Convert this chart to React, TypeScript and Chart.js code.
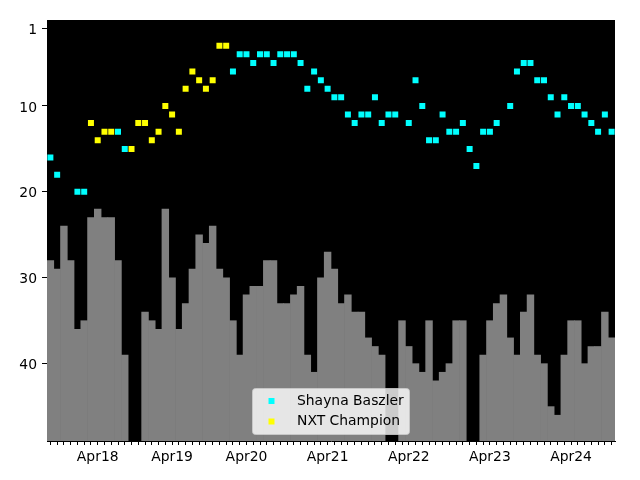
import React, { useEffect, useRef } from 'react';
import { Chart, registerables } from 'chart.js';

Chart.register(...registerables);

// Grey bars (value per period; null = no bar)
const barValues: (number | null)[] = [
  28, 29, 24, 28, 36, 35, 23, 22, 23, 23, 28, 39, null, null, 34, 35, 36, 22, 30, 36,
  33, 29, 25, 26, 24, 29, 30, 35, 39, 32, 31, 31, 28, 28, 33, 33, 32, 31, 39, 41,
  30, 27, 29, 33, 32, 34, 34, 37, 38, 39, null, null, 35, 38, 40, 41, 35, 42, 41, 40,
  35, 35, null, null, 39, 35, 33, 32, 37, 39, 34, 32, 39, 40, 45, 46, 39, 35, 35, 40,
  38, 38, 34, 37,
];

// Cyan points: Shayna Baszler rank
const shaynaRank: (number | null)[] = [
  16, 18, null, null, 20, 20, null, null, null, null, 13, 15, null, null, null, null, null, null, null, null,
  null, null, null, null, null, null, null, 6, 4, 4, 5, 4, 4, 5, 4, 4, 4, 5, 8, 6,
  7, 8, 9, 9, 11, 12, 11, 11, 9, 12, 11, 11, null, 12, 7, 10, 14, 14, 11, 13,
  13, 12, 15, 17, 13, 13, 12, null, 10, 6, 5, 5, 7, 7, 9, 11, 9, 10, 10, 11,
  12, 13, 11, 13,
];

// Yellow points: rank while NXT Champion
const championRank: (number | null)[] = [
  null, null, null, null, null, null, 12, 14, 13, 13, null, null, 15, 12, 12, 14, 13, 10, 11, 13,
  8, 6, 7, 8, 7, 3, 3, null, null, null, null, null, null, null, null, null, null, null, null, null,
  null, null, null, null, null, null, null, null, null, null, null, null, null, null, null, null, null, null, null, null,
  null, null, null, null, null, null, null, null, null, null, null, null, null, null, null, null, null, null, null, null,
  null, null, null, null,
];

const tickPositions = [7, 18, 29, 41, 53, 65, 77];
const tickLabels = ['Apr18', 'Apr19', 'Apr20', 'Apr21', 'Apr22', 'Apr23', 'Apr24'];
const yTicks = [1, 10, 20, 30, 40];
const yMin = 0;
const yMax = 49;

const seriesNames = ['Shayna Baszler', 'NXT Champion'];
const seriesColors = ['#00ffff', '#ffff00'];

const FONT = 'DejaVu Sans';

export default function App() {
  const ref = useRef<HTMLCanvasElement | null>(null);

  useEffect(() => {
    if (!ref.current) return;
    const categories = barValues.map((_, i) => String(i));

    const bgPlugin = {
      id: 'bgPlugin',
      beforeDraw(chart: any) {
        const { ctx, chartArea } = chart;
        ctx.save();
        ctx.fillStyle = '#000000';
        ctx.fillRect(chartArea.left, chartArea.top, chartArea.right - chartArea.left, chartArea.bottom - chartArea.top);
        ctx.restore();
      },
    };

    const legendPlugin = {
      id: 'boxLegend',
      afterDraw(chart: any) {
        const { ctx } = chart;
        const x = 252.5, y = 388.5, w = 157, h = 46, r = 3;
        ctx.save();
        ctx.beginPath();
        ctx.moveTo(x + r, y);
        ctx.lineTo(x + w - r, y);
        ctx.arcTo(x + w, y, x + w, y + r, r);
        ctx.lineTo(x + w, y + h - r);
        ctx.arcTo(x + w, y + h, x + w - r, y + h, r);
        ctx.lineTo(x + r, y + h);
        ctx.arcTo(x, y + h, x, y + h - r, r);
        ctx.lineTo(x, y + r);
        ctx.arcTo(x, y, x + r, y, r);
        ctx.closePath();
        ctx.fillStyle = 'rgba(255,255,255,0.8)';
        ctx.fill();
        ctx.strokeStyle = 'rgba(204,204,204,0.8)';
        ctx.lineWidth = 1;
        ctx.stroke();
        ctx.font = `13.9px "${FONT}"`;
        ctx.textBaseline = 'middle';
        ctx.textAlign = 'left';
        const rows = [401, 421.5];
        seriesNames.forEach((name, k) => {
          ctx.fillStyle = seriesColors[k];
          ctx.fillRect(268.5, rows[k] - 3, 6, 6);
          ctx.fillStyle = '#000000';
          ctx.fillText(name, 297, rows[k]);
        });
        ctx.restore();
      },
    };

    const chart = new Chart(ref.current, {
      type: 'bar',
      data: {
        labels: categories,
        datasets: [
          {
            type: 'line',
            label: seriesNames[0],
            data: shaynaRank,
            showLine: false,
            pointStyle: 'rect',
            pointRadius: 4.24,
            pointBackgroundColor: seriesColors[0],
            pointBorderColor: seriesColors[0],
            pointBorderWidth: 0,
            order: 1,
          } as any,
          {
            type: 'line',
            label: seriesNames[1],
            data: championRank,
            showLine: false,
            pointStyle: 'rect',
            pointRadius: 4.24,
            pointBackgroundColor: seriesColors[1],
            pointBorderColor: seriesColors[1],
            pointBorderWidth: 0,
            order: 1,
          } as any,
          {
            type: 'bar',
            label: 'bars',
            data: barValues.map((v) => (v === null ? null : [yMax, v])) as any,
            backgroundColor: '#808080',
            borderWidth: 0,
            barPercentage: 1,
            categoryPercentage: 1,
            order: 2,
          } as any,
        ],
      },
      options: {
        responsive: false,
        animation: false,
        devicePixelRatio: 1,
        layout: { padding: { left: 0, top: 20, right: 25, bottom: 0 } },
        plugins: {
          legend: { display: false },
          tooltip: { enabled: false },
        },
        scales: {
          x: {
            type: 'category',
            offset: true,
            grid: {
              offset: false,
              drawOnChartArea: false,
              drawTicks: true,
              tickLength: 4,
              tickColor: '#000000',
              tickWidth: 1,
            },
            border: { display: true, color: '#000000' },
            ticks: {
              autoSkip: false,
              maxRotation: 0,
              minRotation: 0,
              padding: 4,
              color: '#000000',
              font: { family: FONT, size: 13.9 },
              callback: (_val: any, idx: number) => {
                const k = tickPositions.indexOf(idx);
                return k >= 0 ? tickLabels[k] : '';
              },
            },
            afterFit: (s: any) => {
              s.height = 39;
            },
          },
          y: {
            type: 'linear',
            reverse: true,
            min: yMin,
            max: yMax,
            afterBuildTicks: (s: any) => {
              s.ticks = yTicks.map((v) => ({ value: v }));
            },
            grid: {
              drawOnChartArea: false,
              drawTicks: true,
              tickLength: 5,
              tickColor: '#000000',
            },
            border: { display: true, color: '#000000' },
            ticks: {
              padding: 5,
              labelOffset: 2,
              color: '#000000',
              font: { family: FONT, size: 13.9 },
            },
            afterFit: (s: any) => {
              s.width = 47;
            },
          },
        },
      },
      plugins: [bgPlugin, legendPlugin],
    });

    return () => chart.destroy();
  }, []);

  return (
    <div style={{ position: 'absolute', left: 0, top: 0, width: 640, height: 480, background: '#ffffff' }}>
      <canvas ref={ref} width={640} height={480} />
    </div>
  );
}
